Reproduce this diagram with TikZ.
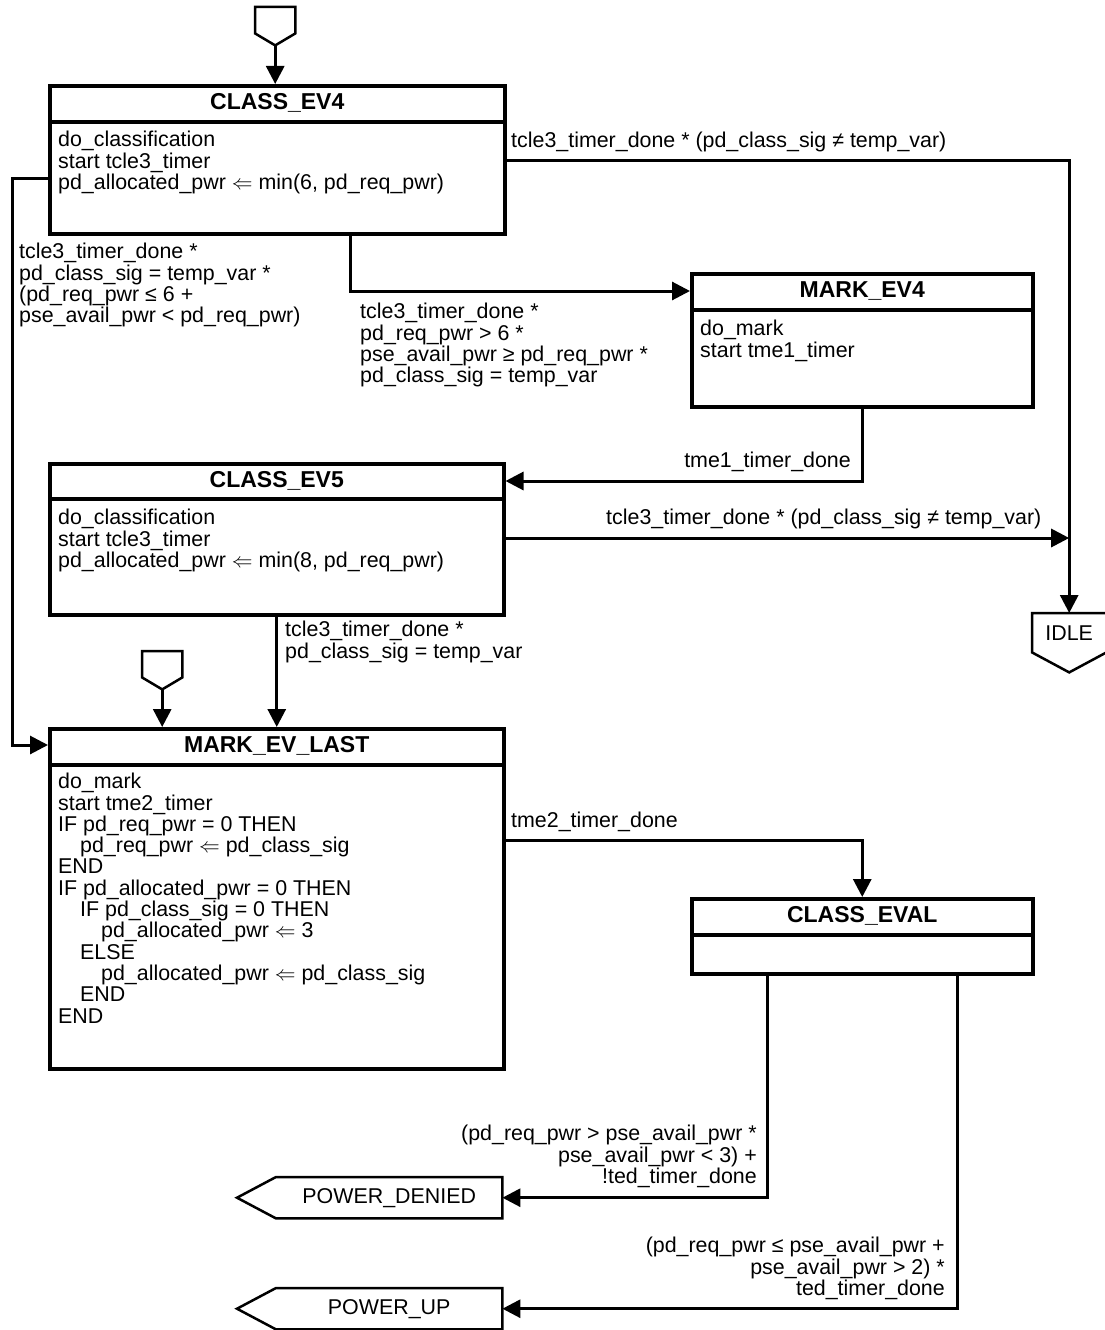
\documentclass[tikz,border=0pt]{standalone}
\usepackage{fontspec}
\setmainfont{Liberation Sans}
\usetikzlibrary{arrows.meta,calc}
\newcommand{\lar}{\ensuremath{\Leftarrow}}
\begin{document}
\begin{tikzpicture}[x=1pt,y=-1pt,
 stbox/.style={draw, line width=3.5pt, rectangle, inner sep=0pt, anchor=north west},
 divline/.style={line width=3.5pt},
 ttl/.style={font=\fontsize{23}{24}\selectfont\bfseries, inner sep=0pt},
 body/.style={font=\fontsize{21.4}{21.3}\selectfont, align=left, inner sep=0pt, anchor=north west},
 lbl/.style={font=\fontsize{21.4}{21.3}\selectfont, inner sep=0pt},
 conn/.style={line width=3pt, -{Triangle[length=18pt,width=18pt]}},
 pseudo/.style={line width=2.5pt, line join=miter},
 pbox/.style={draw=none, rectangle, inner sep=0pt, anchor=north west, font=\fontsize{21.4}{21.3}\selectfont},
 ]
\useasboundingbox (0,0) rectangle (1105,1330);

% ---------- states ----------
\node[stbox, minimum width=455pt, minimum height=148pt] (ev4) at (48,84) {};
\draw[divline] ([yshift=-38pt]ev4.north west) -- ([yshift=-38pt]ev4.north east);
\node[ttl] (ev4t) at ([yshift=-19pt]ev4.north) {CLASS\_EV4};
\node[body] (ev4b) at (58,131) {do\_classification\\start tcle3\_timer\\pd\_allocated\_pwr \lar{} min(6, pd\_req\_pwr)};

\node[stbox, minimum width=341pt, minimum height=133pt] (mk4) at (690,272) {};
\draw[divline] ([yshift=-38pt]mk4.north west) -- ([yshift=-38pt]mk4.north east);
\node[ttl] (mk4t) at ([yshift=-19pt]mk4.north) {MARK\_EV4};
\node[body] (mk4b) at (700,320) {do\_mark\\start tme1\_timer};

\node[stbox, minimum width=454pt, minimum height=151pt] (ev5) at (48,462) {};
\draw[divline] ([yshift=-37pt]ev5.north west) -- ([yshift=-37pt]ev5.north east);
\node[ttl] (ev5t) at ([yshift=-18.5pt]ev5.north) {CLASS\_EV5};
\node[body] (ev5b) at (58,509) {do\_classification\\start tcle3\_timer\\pd\_allocated\_pwr \lar{} min(8, pd\_req\_pwr)};

\node[stbox, minimum width=454pt, minimum height=340pt] (mel) at (48,727) {};
\draw[divline] ([yshift=-38pt]mel.north west) -- ([yshift=-38pt]mel.north east);
\node[ttl] (melt) at ([yshift=-19pt]mel.north) {MARK\_EV\_LAST};
\node[body] (melb) at (58,773) {do\_mark\\start tme2\_timer\\IF pd\_req\_pwr = 0 THEN\\
\hspace*{22pt}pd\_req\_pwr \lar{} pd\_class\_sig\\END\\IF pd\_allocated\_pwr = 0 THEN\\
\hspace*{22pt}IF pd\_class\_sig = 0 THEN\\\hspace*{43pt}pd\_allocated\_pwr \lar{} 3\\
\hspace*{22pt}ELSE\\\hspace*{43pt}pd\_allocated\_pwr \lar{} pd\_class\_sig\\\hspace*{22pt}END\\END};

\node[stbox, minimum width=341pt, minimum height=75pt] (cev) at (690,897) {};
\draw[divline] ([yshift=-38pt]cev.north west) -- ([yshift=-38pt]cev.north east);
\node[ttl] (cevt) at ([yshift=-19pt]cev.north) {CLASS\_EVAL};

% ---------- pseudo states ----------
\node[pbox, minimum width=40pt, minimum height=26pt] (in1) at (255,7) {};
\coordinate (in1tip) at ($(in1.south)+(0,12)$);
\draw[pseudo] (in1.south east) -- (in1.north east) -- (in1.north west) -- (in1.south west) -- (in1tip) -- cycle;

\node[pbox, minimum width=40pt, minimum height=26pt] (in2) at (142,651) {};
\coordinate (in2tip) at ($(in2.south)+(0,12)$);
\draw[pseudo] (in2.south east) -- (in2.north east) -- (in2.north west) -- (in2.south west) -- (in2tip) -- cycle;

\node[pbox, minimum width=74pt, minimum height=39pt] (idle) at (1032,613) {IDLE};
\coordinate (idletip) at ($(idle.south)+(0,20)$);
\draw[pseudo] (idle.south east) -- (idle.north east) -- (idle.north west) -- (idle.south west) -- (idletip) -- cycle;

\node[pbox, minimum width=226pt, minimum height=41pt] (pden) at (276,1177) {POWER\_DENIED};
\coordinate (pdentip) at ($(pden.west)+(-39,0)$);
\draw[pseudo] (pden.north west) -- (pden.north east) -- (pden.south east) -- (pden.south west) -- (pdentip) -- cycle;

\node[pbox, minimum width=226pt, minimum height=41pt] (pup) at (276,1288) {POWER\_UP};
\coordinate (puptip) at ($(pup.west)+(-39,0)$);
\draw[pseudo] (pup.north west) -- (pup.north east) -- (pup.south east) -- (pup.south west) -- (puptip) -- cycle;

% ---------- connectors ----------
\draw[conn] (in1tip) -- (in1tip |- ev4.north);
\draw[conn] (in2tip) -- (in2tip |- mel.north);

\coordinate (ev4r) at ([yshift=-76pt]ev4.north east);
\draw[conn] (ev4r) -| (idle.north);
\node[lbl, anchor=base west] (l1) at (511,147) {tcle3\_timer\_done * (pd\_class\_sig ≠ temp\_var)};

\coordinate (ev4l) at ([yshift=-94pt]ev4.north west);
\coordinate (melw) at ([yshift=-18pt]mel.north west);
\draw[conn] (ev4l) -- ++(-36,0) |- (melw);
\node[lbl, align=left, anchor=north west] (l2) at (19,243) {tcle3\_timer\_done *\\pd\_class\_sig = temp\_var *\\(pd\_req\_pwr ≤ 6 +\\pse\_avail\_pwr < pd\_req\_pwr)};

\coordinate (ev4s) at ([xshift=302pt]ev4.south west);
\draw[conn] (ev4s) |- ([yshift=-19pt]mk4.north west);
\node[lbl, align=left, anchor=north west] (l3) at (360,303) {tcle3\_timer\_done *\\pd\_req\_pwr > 6 *\\pse\_avail\_pwr ≥ pd\_req\_pwr *\\pd\_class\_sig = temp\_var};

\draw[conn] (mk4.south) |- ([yshift=-19pt]ev5.north east);
\node[lbl, anchor=base east] (l4) at (851,467) {tme1\_timer\_done};

\coordinate (ev5r) at ([yshift=-76pt]ev5.north east);
\draw[conn] (ev5r) -- (ev5r -| idle.north);
\node[lbl, anchor=base west] (l5) at (606,524) {tcle3\_timer\_done * (pd\_class\_sig ≠ temp\_var)};

\draw[conn] (ev5.south) -- (mel.north);
\node[lbl, align=left, anchor=north west] (l6) at (285,621) {tcle3\_timer\_done *\\pd\_class\_sig = temp\_var};

\coordinate (melr) at ([yshift=-113pt]mel.north east);
\draw[conn] (melr) -| (cev.north);
\node[lbl, anchor=base west] (l7) at (511,827) {tme2\_timer\_done};

\coordinate (cevs1) at ([xshift=77pt]cev.south west);
\draw[conn] (cevs1) |- (pden.east);
\node[lbl, align=right, anchor=north east] (l8) at (757,1125) {(pd\_req\_pwr > pse\_avail\_pwr *\\pse\_avail\_pwr < 3) +\\!ted\_timer\_done};

\coordinate (cevs2) at ([xshift=267pt]cev.south west);
\draw[conn] (cevs2) |- (pup.east);
\node[lbl, align=right, anchor=north east] (l9) at (945,1237) {(pd\_req\_pwr ≤ pse\_avail\_pwr +\\pse\_avail\_pwr > 2) *\\ted\_timer\_done};
\end{tikzpicture}
\end{document}
